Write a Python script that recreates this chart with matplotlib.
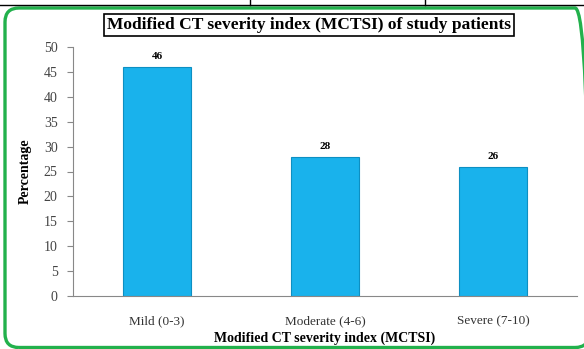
import matplotlib.pyplot as plt
from matplotlib.patches import FancyBboxPatch
from matplotlib.lines import Line2D

categories = ['Mild (0-3)', 'Moderate (4-6)', 'Severe (7-10)']
percentages = [46, 28, 26]
yticks = [0, 5, 10, 15, 20, 25, 30, 35, 40, 45, 50]

plt.rcParams['font.family'] = ['Liberation Serif', 'DejaVu Serif']

W, H = 584, 349
fig = plt.figure(figsize=(W / 100, H / 100), dpi=100)

# remnant of the table above the figure
fig.add_artist(Line2D([0, 1], [1 - 5 / H, 1 - 5 / H], color='black', lw=1))
for xv in [250, 425]:
    fig.add_artist(Line2D([xv / W, xv / W], [1 - 5 / H, 1], color='black', lw=1))

# green rounded frame (runs off the right edge), in inches
frame = FancyBboxPatch((0.05, 0.015), 5.84, 3.395,
                       boxstyle='round,pad=0,rounding_size=0.14',
                       transform=fig.dpi_scale_trans, fill=False,
                       edgecolor='#22b14c', lw=2.4)
fig.add_artist(frame)

ax = fig.add_axes([73 / W, 1 - 296 / H, 504 / W, 249 / H])
x = list(range(len(categories)))
bars = ax.bar(x, percentages, width=0.4, color='#19b2ec',
              edgecolor='#0d8fc2', linewidth=0.8)
for b, v in zip(bars, percentages):
    ax.text(b.get_x() + b.get_width() / 2, v + 1.2, str(v), ha='center',
            va='bottom', fontsize=8, fontweight='bold')

ax.set_xlim(-0.5, 2.5)
ax.set_ylim(0, 50)
ax.set_yticks(yticks)
ax.set_xticks(x)
ax.set_xticklabels(categories, fontsize=9.5, color='#333333')
ax.tick_params(axis='x', length=0, pad=14)
ax.tick_params(axis='y', labelsize=10, length=4, direction='out',
               color='#888888', labelcolor='#444444', pad=7)
for s in ['top', 'right']:
    ax.spines[s].set_visible(False)
ax.spines['left'].set_color('#888888')
ax.spines['bottom'].set_color('#888888')
ax.set_ylabel('Percentage', fontsize=10, fontweight='bold', labelpad=9)
ax.set_xlabel('Modified CT severity index (MCTSI)', fontsize=10,
              fontweight='bold', labelpad=3)

fig.text(309 / W, 1 - 25 / H, 'Modified CT severity index (MCTSI) of study patients',
         ha='center', va='center', fontsize=12.5, fontweight='bold',
         bbox=dict(boxstyle='square,pad=0.2', facecolor='white',
                   edgecolor='black', lw=1.2))

fig.savefig('out.png', dpi=100)
